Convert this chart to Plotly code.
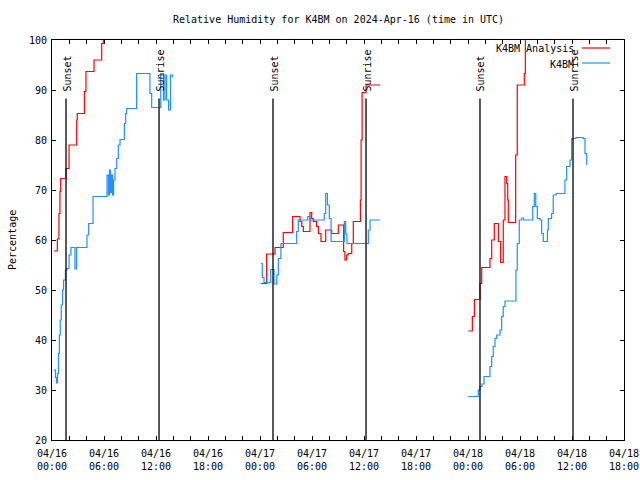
import plotly.graph_objects as go
import datetime as _dt

# ---------------- data (times UTC, values in %) ----------------
# K4BM Analysis (red)
red_d1_t = ["00:14", "00:37", "00:48", "00:55", "01:00", "01:37", "01:58", "02:51", "02:55",
            "03:44", "03:55", "04:51", "05:44", "05:55"]
red_d1_v = [57.8, 60.2, 65.3, 69.7, 72.3, 74.3, 79.0, 84.0, 85.3, 89.7, 93.7, 96.0, 99.3, 102.0]

red_d2_t = ["00:07", "00:46", "01:44", "02:41", "03:46", "04:37", "04:49", "05:00", "05:46",
            "05:58", "06:09", "06:32", "06:44", "07:02", "07:35", "08:16", "09:02", "09:39",
            "09:48", "10:00", "10:11", "10:35", "10:46", "11:35", "11:40", "11:47", "12:14", "13:51"]
red_d2_v = [51.3, 57.2, 58.5, 61.5, 64.7, 63.7, 62.7, 61.7, 65.5,
            64.3, 63.7, 62.7, 61.3, 59.7, 62.0, 61.3, 63.0, 57.7,
            56.0, 57.0, 57.3, 59.3, 63.7, 68.0, 80.0, 89.5, 91.0, 91.0]

red_d3_t = ["00:02", "00:30", "00:44", "01:23", "01:35", "02:32", "02:44", "03:02", "03:30",
            "03:46", "04:04", "04:16", "04:28", "04:35", "04:39", "05:30", "05:41", "06:30", "06:37"]
red_d3_v = [41.8, 44.7, 48.1, 51.3, 54.5, 56.3, 60.0, 63.3, 59.7,
            55.5, 64.0, 72.7, 71.3, 68.0, 63.5, 77.0, 91.0, 93.3, 101.0]

# K4BM (blue)
blue_d1_t = ["00:10", "00:24", "00:31", "00:38", "00:45", "00:51", "00:57", "01:04", "01:13",
             "01:20", "01:33", "01:44", "01:58", "02:11", "02:39", "02:50", "04:02", "04:14",
             "04:44", "06:21", "06:31", "06:38", "06:45", "06:52", "06:59", "07:06", "07:16",
             "07:28", "07:39", "07:51", "08:21", "08:30", "08:37", "09:46", "11:18", "11:30",
             "12:33", "12:52", "13:02", "13:13", "13:27", "13:40", "13:54"]
blue_d1_v = [34.0, 32.5, 31.4, 33.3, 37.3, 41.0, 44.0, 47.0, 50.0,
             52.0, 54.0, 54.3, 57.0, 58.5, 54.2, 58.5, 61.0, 63.3,
             68.7, 73.0, 69.0, 74.0, 69.5, 73.0, 69.0, 72.0, 74.3,
             76.3, 79.0, 80.1, 83.3, 85.3, 86.3, 93.3, 89.3, 86.5,
             93.3, 88.0, 93.0, 88.0, 86.0, 93.0, 92.5]

blue_d2_t = ["00:07", "00:16", "00:28", "01:14", "01:37", "01:56", "02:07", "02:25", "04:14",
             "04:25", "05:30", "05:46", "07:25", "07:35", "07:47", "08:00", "08:12", "09:44",
             "09:53", "10:02", "12:30", "12:42", "13:51"]
blue_d2_v = [55.3, 52.5, 51.5, 54.1, 51.2, 53.0, 56.3, 59.3, 61.7,
             64.0, 64.7, 64.0, 65.3, 69.3, 67.0, 64.3, 59.7, 63.7,
             61.2, 59.3, 62.0, 64.0, 64.0]

blue_d3_t = ["00:02", "01:11", "01:23", "01:37", "01:51", "02:32", "02:44", "02:55", "03:07",
             "03:19", "03:42", "03:53", "04:04", "04:16", "05:32", "05:41", "05:55", "06:12",
             "06:25", "07:28", "07:39", "07:49", "08:00", "08:18", "08:30", "08:41", "09:10",
             "09:16", "09:39", "09:50", "10:10", "11:11", "11:23", "11:46", "11:58", "12:28",
             "13:18", "13:30", "13:42"]
blue_d3_v = [28.7, 30.0, 30.7, 31.2, 32.7, 34.7, 36.7, 38.7, 40.3,
             41.0, 42.0, 44.7, 46.7, 47.8, 54.0, 59.3, 64.0, 64.4,
             64.0, 66.7, 69.3, 66.7, 64.3, 64.0, 61.3, 59.7, 62.0,
             64.3, 65.3, 69.0, 69.3, 72.0, 74.7, 76.0, 80.3, 80.5,
             80.3, 77.3, 75.0]

days = ["2024-04-16", "2024-04-17", "2024-04-18"]

sun_labels = ["Sunset", "Sunrise", "Sunset", "Sunrise", "Sunset", "Sunrise"]
sun_times = ["2024-04-16 01:37", "2024-04-16 12:21", "2024-04-17 01:30",
             "2024-04-17 12:14", "2024-04-18 01:23", "2024-04-18 12:07"]

tick_hours = list(range(0, 67, 2))
series_names = ["K4BM Analysis", "K4BM"]
series_colors = ["#ff0000", "#1e90ff"]

# ---------------- build ----------------
def join(parts):
    xs, ys = [], []
    for i, (d, t, v) in enumerate(parts):
        if i:
            xs.append(d + " 00:00")
            ys.append(None)
        xs += [f"{d} {hm}" for hm in t]
        ys += v
    return xs, ys

red_x, red_y = join([(days[0], red_d1_t, red_d1_v), (days[1], red_d2_t, red_d2_v),
                     (days[2], red_d3_t, red_d3_v)])
blue_x, blue_y = join([(days[0], blue_d1_t, blue_d1_v), (days[1], blue_d2_t, blue_d2_v),
                       (days[2], blue_d3_t, blue_d3_v)])

FONT = "DejaVu Sans Mono"
FS = 10
fig = go.Figure()
for (xs, ys), name, col in [((red_x, red_y), series_names[0], series_colors[0]),
                            ((blue_x, blue_y), series_names[1], series_colors[1])]:
    fig.add_trace(go.Scatter(x=xs, y=ys, mode="lines", name=name,
                             line=dict(color=col, width=1.2, shape="hv"),
                             connectgaps=False, showlegend=False))

base = _dt.datetime(2024, 4, 16)
tickvals, ticktext = [], []
for h in tick_hours:
    t = base + _dt.timedelta(hours=h)
    tickvals.append(t.strftime("%Y-%m-%d %H:%M"))
    ticktext.append(t.strftime("%m/%d<br>%H:%M") if h % 6 == 0 else "")

# sunrise / sunset lines
for lab, t in zip(sun_labels, sun_times):
    fig.add_shape(type="line", xref="x", yref="y", x0=t, x1=t, y0=20, y1=88.3,
                  line=dict(color="black", width=1.3))
    fig.add_annotation(x=t, y=88.3, xref="x", yref="y", text=lab, textangle=-90,
                       showarrow=False, xanchor="center", yanchor="bottom", xshift=1,
                       yshift=5, font=dict(family=FONT, size=FS, color="black"))

# legend (gnuplot style: text then sample line); plot area is 572 x 400 px
PW, PH = 572.0, 400.0
for i, (name, col) in enumerate(zip(series_names, series_colors)):
    yy = 1 - (9 + i * 15) / PH
    fig.add_annotation(x=(576 - 52) / PW, y=yy, xref="paper", yref="paper", text=name,
                       showarrow=False, xanchor="right", yanchor="middle",
                       font=dict(family=FONT, size=FS, color="black"))
    fig.add_shape(type="line", xref="paper", yref="paper",
                  x0=(582 - 52) / PW, x1=(610 - 52) / PW,
                  y0=yy + 1 / PH, y1=yy + 1 / PH, line=dict(color=col, width=1.2))

# title and y label
fig.add_annotation(x=0.5, y=1 + 20 / PH, xref="paper", yref="paper",
                   text="Relative Humidity for K4BM on 2024-Apr-16 (time in UTC)",
                   showarrow=False, xanchor="center", yanchor="middle",
                   font=dict(family=FONT, size=FS, color="black"))
fig.add_annotation(x=-(52 - 12) / PW, y=0.5, xref="paper", yref="paper", text="Percentage",
                   textangle=-90, showarrow=False, xanchor="center", yanchor="middle",
                   font=dict(family=FONT, size=FS, color="black"))

fig.update_layout(
    width=640, height=480,
    margin=dict(l=52, r=16, t=40, b=40, autoexpand=False),
    paper_bgcolor="white", plot_bgcolor="white",
    font=dict(family=FONT, size=FS, color="black"),
    showlegend=False,
    xaxis=dict(type="date", range=["2024-04-16 00:00", "2024-04-18 18:00"],
               tickmode="array", tickvals=tickvals, ticktext=ticktext,
               ticks="inside", ticklen=4, tickcolor="black", showgrid=False,
               showline=True, linecolor="black", linewidth=1, mirror="ticks",
               zeroline=False, ticklabelstandoff=4, automargin=False,
               ticklabeloverflow="allow",
               tickfont=dict(family=FONT, size=FS)),
    yaxis=dict(range=[20, 100], tickmode="linear", tick0=20, dtick=10,
               ticks="inside", ticklen=4, tickcolor="black", showgrid=False,
               showline=True, linecolor="black", linewidth=1, mirror="ticks",
               zeroline=False, automargin=False, ticklabelstandoff=2,
               tickfont=dict(family=FONT, size=FS)),
)

# remove the default page margin so the 640x480 figure fills the window exactly
fig.write_html("out.html",
               config={"displayModeBar": False, "staticPlot": True},
               post_script="document.body.style.margin='0';"
                           "document.body.style.overflow='hidden';")
